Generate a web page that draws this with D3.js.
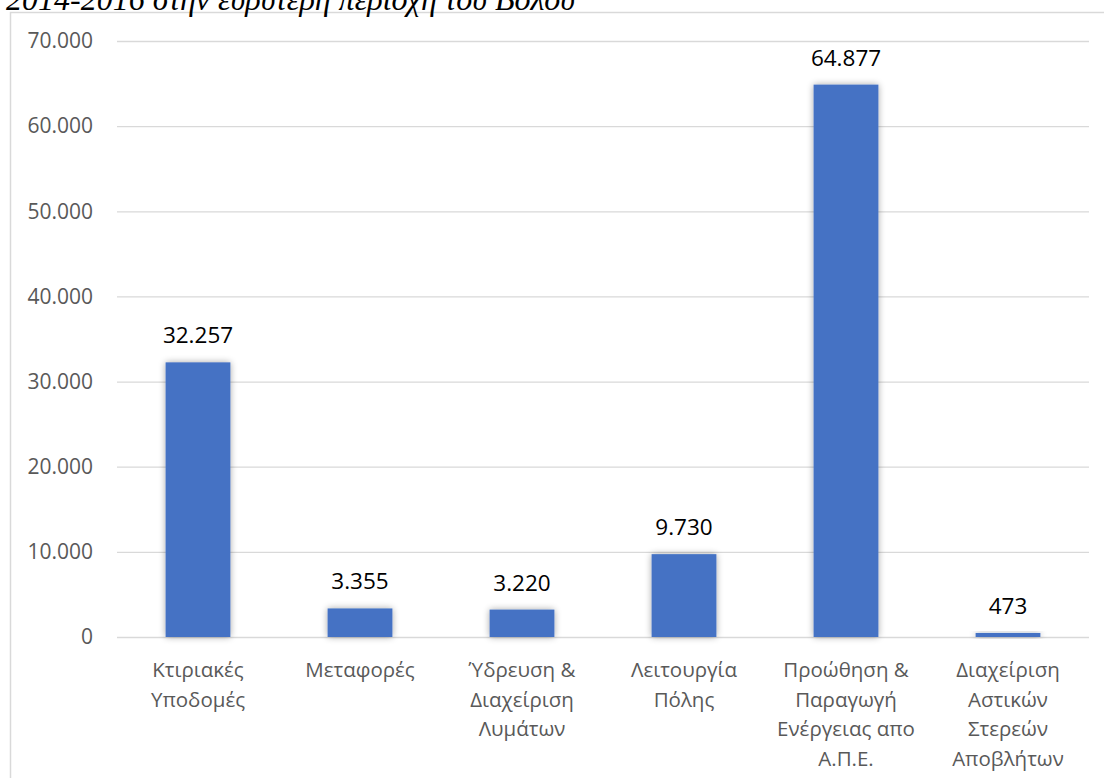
<!DOCTYPE html>
<html>
<head>
<meta charset="utf-8">
<script src="https://cdn.jsdelivr.net/npm/d3@7"></script>
<style>
  html, body { margin: 0; padding: 0; background: #fff; overflow: hidden; }
  svg { display: block; }
</style>
</head>
<body>
<svg id="chart" width="1104" height="778"></svg>
<script>
// Investment per action area (values in thousands)
const categories = [
  ["Κτιριακές", "Υποδομές"],
  ["Μεταφορές"],
  ["Ύδρευση &", "Διαχείριση", "Λυμάτων"],
  ["Λειτουργία", "Πόλης"],
  ["Προώθηση &", "Παραγωγή", "Ενέργειας απο", "Α.Π.Ε."],
  ["Διαχείριση", "Αστικών", "Στερεών", "Αποβλήτων"]
];
const values = [32257, 3355, 3220, 9730, 64877, 473];
const yTicks = [0, 10000, 20000, 30000, 40000, 50000, 60000, 70000];
const caption = "2014-2016 στην ευρύτερη περιοχή του Βόλου";

const svg = d3.select("#chart");
const W = 1104, H = 778;
const plot = { left: 117, right: 1089, top: 41, bottom: 637 };

// Greek-style number formatting: dot as thousands separator
const fmt = d3.formatLocale({ decimal: ",", thousands: ".", grouping: [3], currency: ["", "€"] }).format(",d");

// Soft glow shadow behind bars
const defs = svg.append("defs");
const f = defs.append("filter").attr("id", "barShadow")
  .attr("x", "-30%").attr("y", "-30%").attr("width", "160%").attr("height", "160%");
f.append("feGaussianBlur").attr("in", "SourceAlpha").attr("stdDeviation", 3.5).attr("result", "b");
f.append("feComponentTransfer").attr("in", "b").attr("result", "s")
  .append("feFuncA").attr("type", "linear").attr("slope", 0.35);
const m = f.append("feMerge");
m.append("feMergeNode").attr("in", "s");
m.append("feMergeNode").attr("in", "SourceGraphic");

// Chart frame
svg.append("rect")
  .attr("x", 10.5).attr("y", 12.5)
  .attr("width", W + 20).attr("height", H + 20)
  .attr("fill", "#fff")
  .attr("stroke", "#d9d9d9").attr("stroke-width", 1.5);

// Caption running off the top of the page
svg.append("text")
  .attr("x", 6).attr("y", 10)
  .attr("font-family", "'Liberation Serif', 'DejaVu Serif', serif")
  .attr("font-style", "italic")
  .attr("font-size", 32)
  .attr("fill", "#000")
  .text(caption);

const x = d3.scaleBand()
  .domain(d3.range(categories.length))
  .range([plot.left, plot.right])
  .paddingInner(0.6).paddingOuter(0.3);

const y = d3.scaleLinear().domain([0, 70000]).range([plot.bottom, plot.top]);

// Gridlines and y tick labels
const yAxis = d3.axisLeft(y)
  .tickValues(yTicks)
  .tickSize(-(plot.right - plot.left))
  .tickPadding(24)
  .tickFormat(d => fmt(d));

const gy = svg.append("g")
  .attr("transform", `translate(${plot.left},0)`)
  .call(yAxis);
gy.select(".domain").remove();
gy.selectAll(".tick line").attr("stroke", "#d9d9d9").attr("stroke-width", 1.3);
gy.selectAll(".tick text")
  .attr("fill", "#595959")
  .attr("font-family", "'Open Sans', sans-serif")
  .attr("font-size", 21);

// Bars
svg.append("g").selectAll("rect")
  .data(values)
  .join("rect")
  .attr("x", (d, i) => x(i))
  .attr("y", d => y(d))
  .attr("width", x.bandwidth())
  .attr("height", d => y(0) - y(d))
  .attr("fill", "#4472c4")
  .attr("filter", "url(#barShadow)");

// Value labels
svg.append("g").selectAll("text")
  .data(values)
  .join("text")
  .attr("x", (d, i) => x(i) + x.bandwidth() / 2)
  .attr("y", d => y(d) - 19)
  .attr("text-anchor", "middle")
  .attr("font-family", "'Open Sans', sans-serif")
  .attr("font-size", 22.5)
  .attr("fill", "#000")
  .text(d => fmt(d));

// Category labels (multi-line)
const gx = svg.append("g").selectAll("text")
  .data(categories)
  .join("text")
  .attr("text-anchor", "middle")
  .attr("font-family", "'Open Sans', sans-serif")
  .attr("font-size", 20.5)
  .attr("fill", "#595959");
gx.each(function (lines, i) {
  const cx = x(i) + x.bandwidth() / 2;
  d3.select(this).selectAll("tspan")
    .data(lines)
    .join("tspan")
    .attr("x", cx)
    .attr("y", (d, j) => plot.bottom + 40 + j * 29.5)
    .text(d => d);
});
</script>
</body>
</html>
